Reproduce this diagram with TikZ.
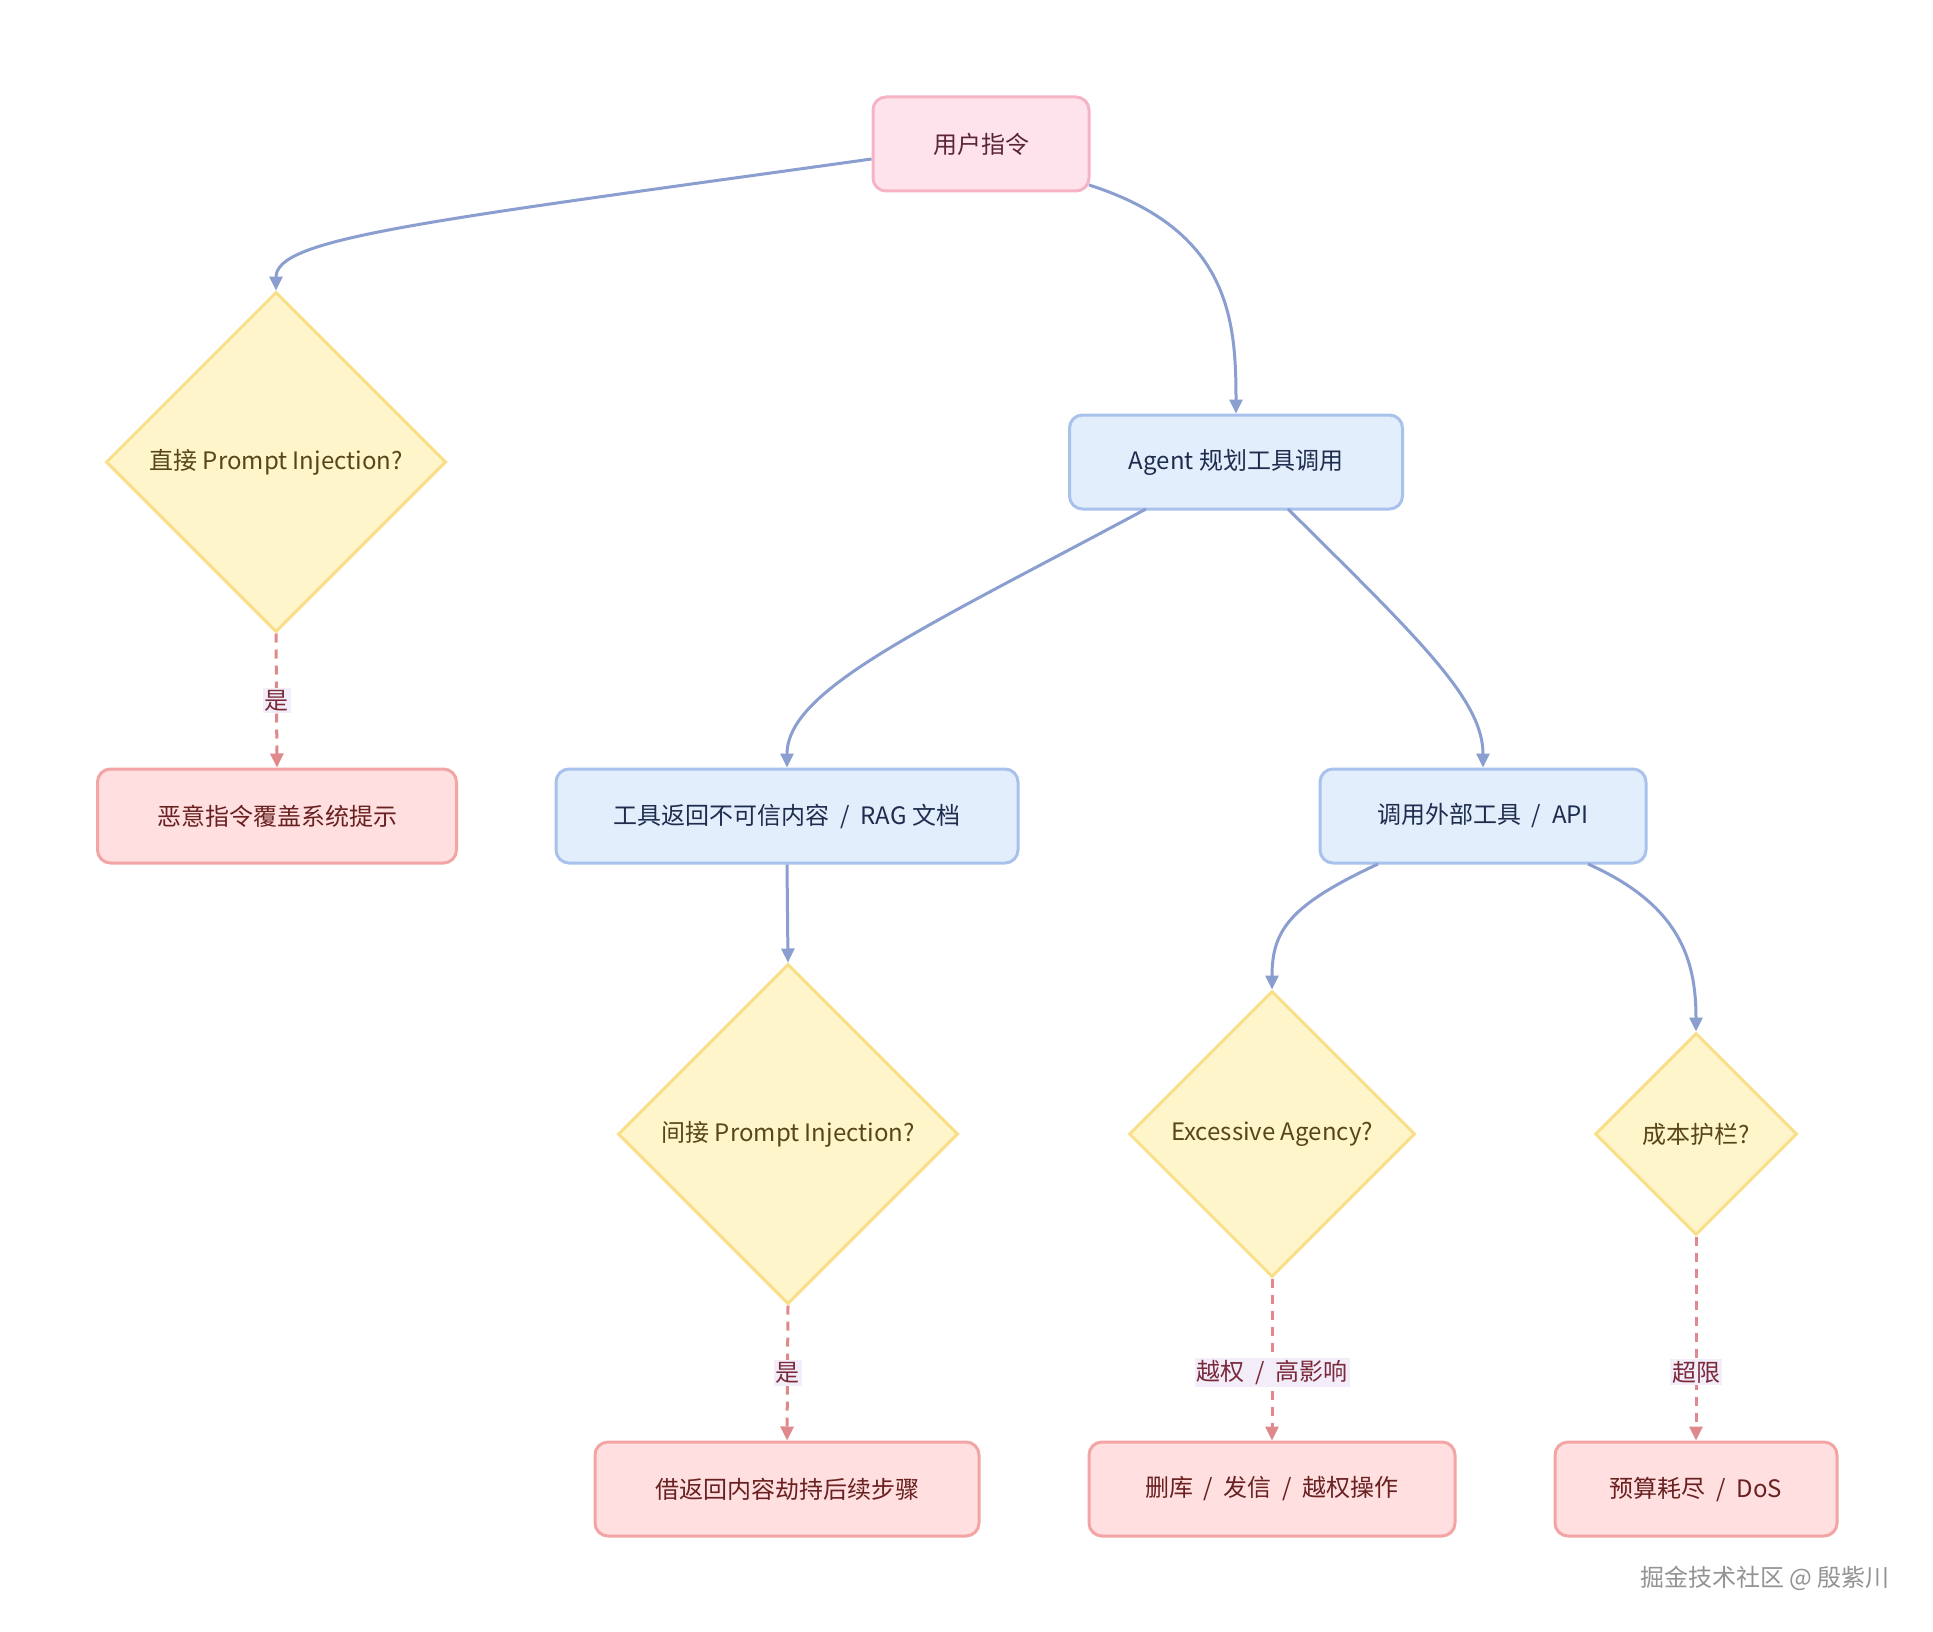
\documentclass[tikz,border=0pt]{standalone}
\usepackage{fontspec}
\setmainfont{Noto Sans CJK SC}
\usetikzlibrary{shapes.geometric,arrows.meta}
\definecolor{pinkfill}{HTML}{FFE3EC}
\definecolor{pinkdraw}{HTML}{F6B3C6}
\definecolor{pinktext}{HTML}{5A2637}
\definecolor{bluefill}{HTML}{E3EEFD}
\definecolor{bluedraw}{HTML}{A8C2EC}
\definecolor{bluetext}{HTML}{1E2D4D}
\definecolor{yelfill}{HTML}{FFF5CB}
\definecolor{yeldraw}{HTML}{F8DF88}
\definecolor{yeltext}{HTML}{574618}
\definecolor{redfill}{HTML}{FFDFDF}
\definecolor{reddraw}{HTML}{F3A5A5}
\definecolor{redtext}{HTML}{692020}
\definecolor{edgeblue}{HTML}{8A9ED0}
\definecolor{edgered}{HTML}{E0898D}
\definecolor{labfill}{HTML}{F3ECF9}
\definecolor{labtext}{HTML}{7A2A3A}
\newcommand{\sepsl}{\hspace{0.45em}/\hspace{0.45em}}
\tikzset{
  x=1pt, y=-1pt,
  every node/.style={font=\fontsize{24}{28}\selectfont},
  pinkbox/.style={rectangle, rounded corners=13pt, draw=pinkdraw, fill=pinkfill, line width=3pt, text=pinktext, minimum height=94pt, inner sep=0pt},
  bluebox/.style={rectangle, rounded corners=13pt, draw=bluedraw, fill=bluefill, line width=3pt, text=bluetext, minimum height=94pt, inner sep=0pt},
  redbox/.style={rectangle, rounded corners=13pt, draw=reddraw, fill=redfill, line width=3pt, text=redtext, minimum height=94pt, inner sep=0pt},
  decision/.style={diamond, aspect=1, draw=yeldraw, fill=yelfill, line width=3pt, text=yeltext, inner sep=0pt},
  flow/.style={draw=edgeblue, line width=3pt, -{Triangle[length=14pt,width=13pt]}},
  riskflow/.style={draw=edgered, line width=3pt, dash pattern=on 9pt off 7pt, -{Triangle[length=14pt,width=13pt]}},
  edgelabel/.style={fill=labfill, text=labtext, inner sep=2pt}
}
\begin{document}
\begin{tikzpicture}
\useasboundingbox (0,0) rectangle (1933,1632);
\fill[white] (0,0) rectangle (1933,1632);

% nodes
\node[pinkbox, minimum width=216pt] (user) at (981,144) {用户指令};
\node[decision, minimum width=340pt, minimum height=340pt] (direct) at (276,462) {直接 Prompt Injection?};
\node[bluebox, minimum width=333pt] (agent) at (1236,462) {Agent 规划工具调用};
\node[redbox, minimum width=359pt] (override) at (277,816) {恶意指令覆盖系统提示};
\node[bluebox, minimum width=462pt] (toolret) at (787,816) {工具返回不可信内容\sepsl RAG 文档};
\node[bluebox, minimum width=326pt] (callext) at (1483,816) {调用外部工具\sepsl API};
\node[decision, minimum width=340pt, minimum height=340pt] (indirect) at (788,1134) {间接 Prompt Injection?};
\node[decision, minimum width=286pt, minimum height=286pt] (excess) at (1272,1134) {Excessive Agency?};
\node[decision, minimum width=202pt, minimum height=202pt] (cost) at (1696,1134) {成本护栏?};
\node[redbox, minimum width=384pt] (hijack) at (787,1489) {借返回内容劫持后续步骤};
\node[redbox, minimum width=366pt] (delete) at (1272,1489) {删库\sepsl 发信\sepsl 越权操作};
\node[redbox, minimum width=282pt] (dos) at (1696,1489) {预算耗尽\sepsl DoS};
\node[text=gray!85, anchor=east, font=\fontsize{24}{28}\selectfont] (mark) at (1893,1578) {掘金技术社区 @ 殷紫川};

% blue connectors
\draw[flow] (user.west |- 0,159) .. controls (420,222) and (276,238) .. (direct.north);
\draw[flow] (1089,185) .. controls (1230,230) and (1236,320) .. (agent.north);
\draw[flow] (1146,509) .. controls (920,630) and (787,690) .. (toolret.north);
\draw[flow] (1288,509) .. controls (1420,640) and (1483,700) .. (callext.north);
\draw[flow] (toolret.south) -- (indirect.north);
\draw[flow] (1378,864) .. controls (1290,905) and (1272,930) .. (excess.north);
\draw[flow] (1588,864) .. controls (1680,905) and (1696,960) .. (cost.north);

% red dashed connectors with labels
\draw[riskflow] (direct.south) -- node[edgelabel] (l1) {是} (override.north);
\draw[riskflow] (indirect.south) -- node[edgelabel] (l2) {是} (hijack.north);
\draw[riskflow] (excess.south) -- node[edgelabel, pos=0.58] (l3) {越权\sepsl 高影响} (delete.north);
\draw[riskflow] (cost.south) -- node[edgelabel, pos=0.665] (l4) {超限} (dos.north);
\end{tikzpicture}
\end{document}
